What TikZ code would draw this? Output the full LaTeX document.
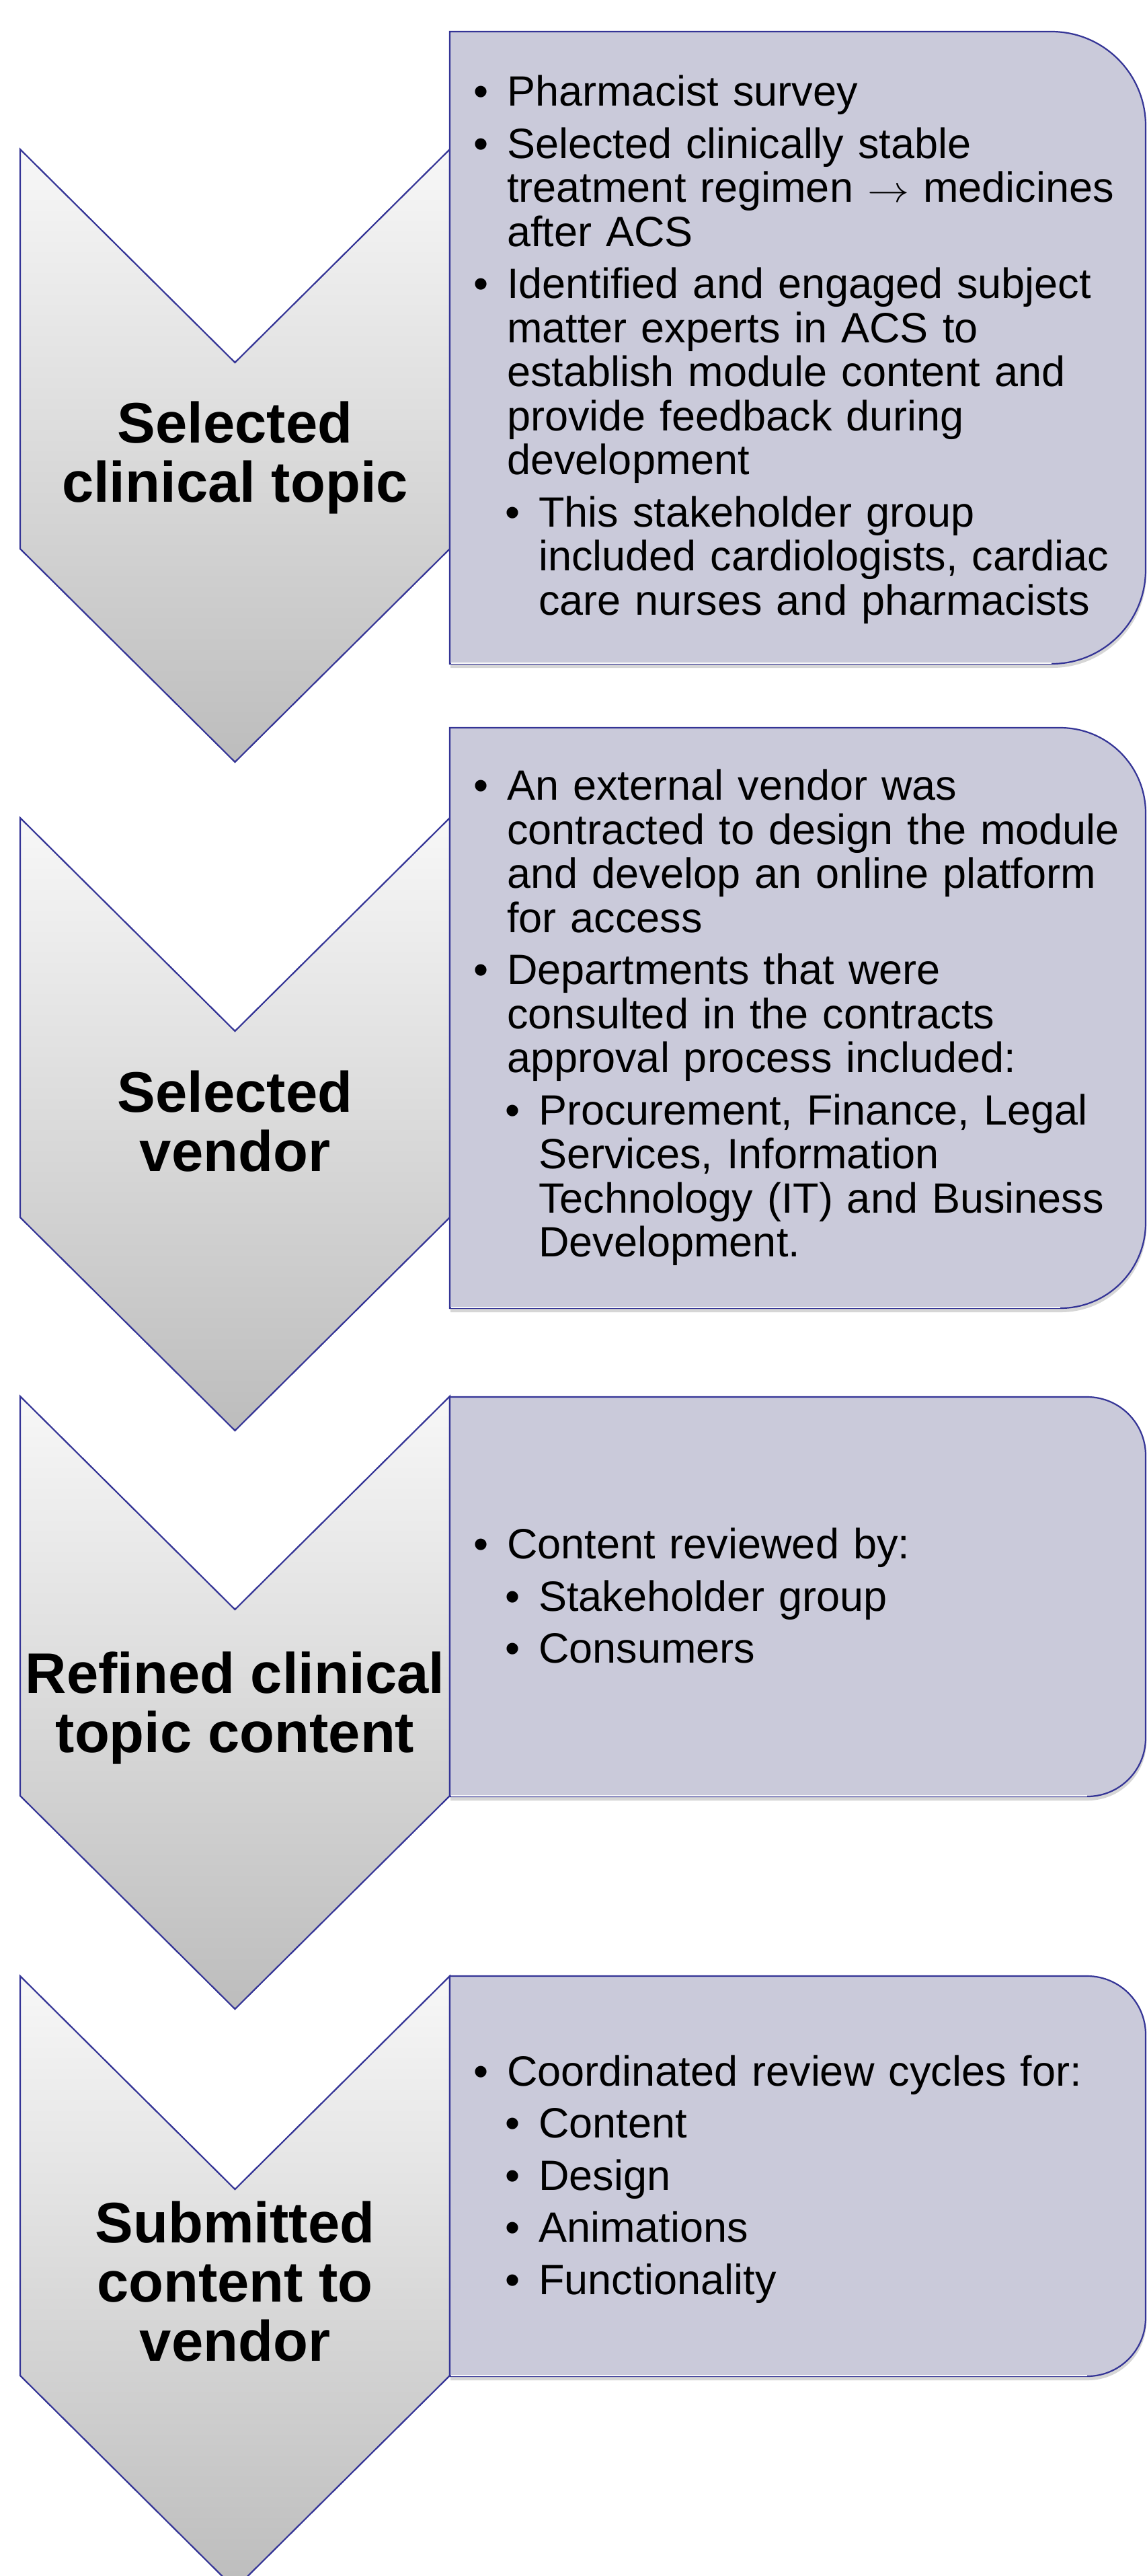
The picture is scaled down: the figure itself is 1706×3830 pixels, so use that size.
\documentclass[tikz,border=0pt]{standalone}
\usepackage{fontspec}
\setmainfont{Liberation Sans}
\definecolor{edge}{RGB}{52,52,150}
\definecolor{boxfill}{RGB}{202,202,218}
\newcommand\ba[1]{\par\hangindent=25pt\hangafter=1\noindent\makebox[25pt][l]{•}#1}
\newcommand\bb[1]{\par\hangindent=48.5pt\hangafter=1\noindent\hspace*{23.5pt}\makebox[25pt][l]{•}#1}
\newcommand\myarrow{\scalebox{1.25}[1.1]{$\rightarrow$}}
\begin{document}
\begin{tikzpicture}[x=0.5pt,y=-0.5pt,
 chev/.style={draw=edge,line width=1.1pt,top color=black!3,bottom color=black!26,line join=miter},
 infobox/.style={draw=edge,line width=1.1pt,fill=boxfill},
 boxshadow/.style={fill=black!35,opacity=0.45},
 title/.style={font=\fontsize{42.5pt}{44pt}\selectfont\bfseries,align=center,inner sep=0pt},
 body/.style={font=\fontsize{31.5pt}{32.75pt}\selectfont\setlength{\parskip}{6pt},text width=499pt,align=left,inner sep=0pt,anchor=west}]
\useasboundingbox (0,0) rectangle (1706,3830);
\clip (0,0) rectangle (1706,3830);
\fill[white] (0,0) rectangle (1706,3830);
% chevrons
\foreach \T in {222,1216,2076,2938}{
  \draw[chev] (30,\T) -- (349.5,\T+317) -- (669,\T) -- (669,\T+594) -- (349.5,\T+911) -- (30,\T+594) -- cycle;
}
% boxes
\foreach \t/\b/\r in {47/987/140,1082/1945/127,2077/2671/87,2938/3533/87}{
  \begin{scope}[yshift=-3pt,xshift=0.5pt]
    \fill[boxshadow] (669,\t) -- (1704-\r,\t) arc[start angle=90,end angle=0,radius=\r*0.5pt] -- (1704,\b-\r) arc[start angle=0,end angle=-90,radius=\r*0.5pt] -- (669,\b) -- cycle;
  \end{scope}
  \draw[infobox] (669,\t) -- (1704-\r,\t) arc[start angle=90,end angle=0,radius=\r*0.5pt] -- (1704,\b-\r) arc[start angle=0,end angle=-90,radius=\r*0.5pt] -- (669,\b) -- cycle;
  \draw[white!85!boxfill,line width=1pt] (671,\b-1.5) -- (1704-\r,\b-1.5);
}
% titles
\node[title] (t1) at (349.5,681) {Selected\\clinical topic};
\node[title] (t2) at (349.5,1667.5) {Selected\\vendor};
\node[title] (t3) at (349.5,2539) {Refined clinical\\topic content};
\node[title] (t4) at (349.5,3392.5) {Submitted\\content to\\vendor};
% bodies
\node[body] (b1) at (704,504) {%
\ba{Pharmacist survey}
\ba{Selected clinically stable\newline treatment regimen \myarrow{} medicines\newline after ACS}
\ba{Identified and engaged subject\newline matter experts in ACS to\newline establish module content and\newline provide feedback during\newline development}
\bb{This stakeholder group\newline included cardiologists, cardiac\newline care nurses and pharmacists}\par};
\node[body] (b2) at (704,1497) {%
\ba{An external vendor was\newline contracted to design the module\newline and develop an online platform\newline for access}
\ba{Departments that were\newline consulted in the contracts\newline approval process included:}
\bb{Procurement, Finance, Legal\newline Services, Information\newline Technology (IT) and Business\newline Development.}\par};
\node[body] (b3) at (704,2357) {%
\ba{Content reviewed by:}
\bb{Stakeholder group}
\bb{Consumers}\par};
\node[body] (b4) at (704,3224) {%
\ba{Coordinated review cycles for:}
\bb{Content}
\bb{Design}
\bb{Animations}
\bb{Functionality}\par};
\end{tikzpicture}
\end{document}
